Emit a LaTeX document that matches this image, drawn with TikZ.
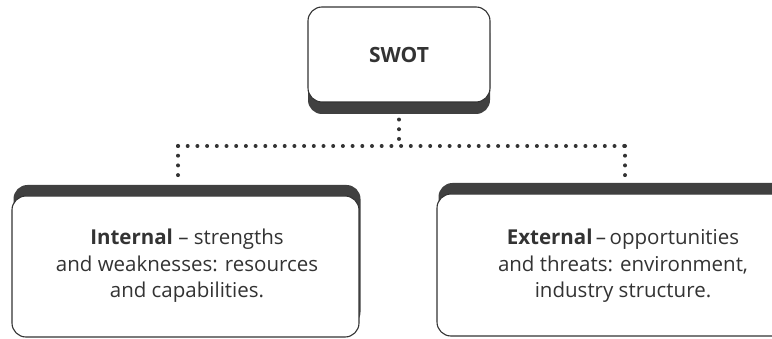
\documentclass[tikz,border=0pt]{standalone}
\usepackage{fontspec}
\setmainfont{Open Sans}
\usetikzlibrary{shadows}
\definecolor{ink}{HTML}{333333}
\definecolor{band}{HTML}{404040}
\begin{document}
\begin{tikzpicture}[x=1pt,y=-1pt,
  box/.style={draw=ink, line width=1.1pt, fill=white, rounded corners=14pt,
    text=ink, align=center, inner sep=0pt},
  shadowdown/.style={drop shadow={opacity=1, fill=band, shadow xshift=0pt, shadow yshift=-12pt}},
  shadowup/.style={drop shadow={opacity=1, fill=band, shadow xshift=1.5pt, shadow yshift=11pt}},
  bodytext/.style={text=ink, align=center, font=\fontsize{20.5}{26.5}\selectfont},
  dotline/.style={draw=ink, line width=4pt, line cap=round, dash pattern=on 0pt off 9.7pt}
]
\useasboundingbox (0,0) rectangle (772,339);
\clip (0,0) rectangle (772,339);
\fill[white] (0,0) rectangle (772,339);
\node[box, shadowdown, minimum width=182pt, minimum height=95pt,
  font=\fontsize{21}{25}\selectfont\bfseries] (swot) at (399,54.5) {SWOT};
\node[box, shadowup, minimum width=347pt, minimum height=141pt] (int) at (185.5,266.5) {};
\node[bodytext] (inttext) at (187,266)
  {\textbf{Internal} -- strengths\\ and weaknesses: resources\\ and capabilities.};
\node[box, shadowup, minimum width=363pt, minimum height=142pt] (ext) at (618.5,265) {};
\node[bodytext] (exttext) at (623,266)
  {\textbf{External}\,--\,opportunities\\ and threats: environment,\\ industry structure.};
\coordinate (bl) at (178,146);
\coordinate (br) at (625,146);
\coordinate (bm) at (399,146);
\draw[dotline] ([yshift=-17pt]swot.south) -- (bm);
\draw[dotline] (bl) -- (br);
\draw[dotline] (bl) -- ([yshift=14pt]bl |- int.north);
\draw[dotline] (br) -- ([yshift=14pt]br |- ext.north);
\end{tikzpicture}
\end{document}
